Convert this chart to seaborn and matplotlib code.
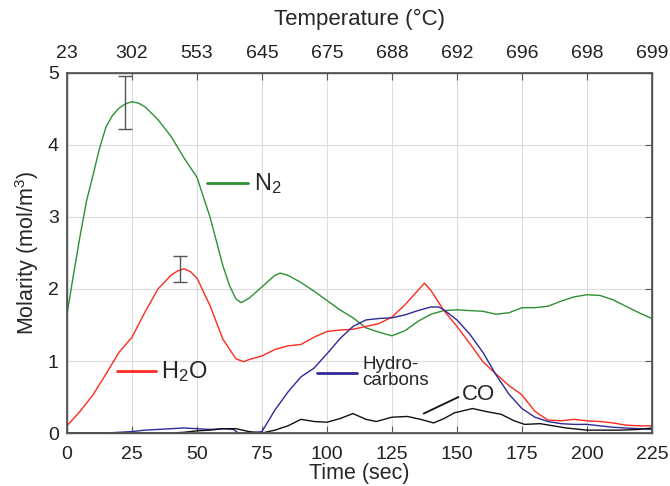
"""
Gas molarity vs time with a temperature axis on top.
"""
import matplotlib
matplotlib.use("Agg")
import matplotlib.pyplot as plt
import seaborn as sns

sns.set_theme(style="whitegrid")
plt.rcParams["font.family"] = ["Liberation Sans", "DejaVu Sans"]
plt.rcParams["mathtext.fontset"] = "custom"
plt.rcParams["mathtext.rm"] = "Liberation Sans"
plt.rcParams["mathtext.it"] = "Liberation Sans:italic"

C_N2 = "#2e8f33"
C_H2O = "#ff2a1f"
C_HC = "#2e2a98"
C_CO = "#111111"
C_ERR = "#555555"

# ---------- data ----------
time_ticks = [0, 25, 50, 75, 100, 125, 150, 175, 200, 225]
temp_labels = ["23", "302", "553", "645", "675", "688", "692", "696", "698", "699"]

t_n2 = [0, 2.5, 5, 7.5, 10, 12.5, 15, 17.5, 20, 22.5, 25, 27.5, 30, 35, 40, 45, 50,
        55, 60, 62.5, 65, 67, 70, 75, 80, 82, 85, 90, 95, 100, 105, 110, 115,
        120, 125, 130, 135, 140, 145, 150, 155, 160, 165, 170, 175, 180, 185,
        190, 195, 200, 205, 210, 215, 220, 225]
n2 = [1.65, 2.2, 2.73, 3.22, 3.58, 3.95, 4.25, 4.41, 4.51, 4.57, 4.60, 4.58, 4.53,
      4.35, 4.12, 3.82, 3.55, 3.0, 2.32, 2.05, 1.86, 1.81, 1.87, 2.03, 2.19,
      2.22, 2.19, 2.09, 1.97, 1.84, 1.71, 1.60, 1.46, 1.40, 1.35, 1.42, 1.55,
      1.65, 1.70, 1.71, 1.70, 1.69, 1.65, 1.67, 1.74, 1.74, 1.76, 1.83, 1.89,
      1.92, 1.91, 1.85, 1.76, 1.67, 1.59]

t_h2o = [0, 5, 10, 15, 20, 25, 30, 35, 40, 42.5, 45, 47.5, 50, 55, 60, 65, 68, 70,
         75, 80, 85, 90, 95, 100, 105, 110, 115, 120, 125, 130, 135, 137.5, 140,
         145, 150, 155, 160, 165, 170, 175, 180, 185, 190, 195, 200, 205, 210,
         215, 220, 225]
h2o = [0.10, 0.30, 0.53, 0.82, 1.12, 1.33, 1.68, 2.0, 2.19, 2.25, 2.28, 2.24,
       2.15, 1.77, 1.30, 1.03, 0.99, 1.02, 1.07, 1.16, 1.21, 1.23, 1.33, 1.41,
       1.43, 1.44, 1.48, 1.52, 1.61, 1.78, 1.98, 2.08, 1.98, 1.70, 1.48, 1.24,
       0.99, 0.82, 0.66, 0.53, 0.30, 0.18, 0.17, 0.19, 0.17, 0.16, 0.14, 0.11,
       0.10, 0.10]

t_hc = [0, 15, 20, 25, 30, 35, 40, 45, 50, 55, 60, 64, 66, 70, 75, 80, 85, 90, 95,
        100, 105, 110, 115, 120, 125, 130, 135, 140, 143, 145, 150, 155, 160,
        165, 170, 175, 180, 185, 190, 195, 200, 205, 210, 215, 220, 225]
hc = [0, 0, 0.01, 0.02, 0.04, 0.05, 0.06, 0.07, 0.06, 0.05, 0.06, 0.05, 0.0, 0.0,
      0.02, 0.32, 0.57, 0.78, 0.90, 1.10, 1.31, 1.48, 1.57, 1.59, 1.60, 1.64,
      1.70, 1.75, 1.75, 1.71, 1.57, 1.37, 1.12, 0.81, 0.54, 0.34, 0.22, 0.16,
      0.13, 0.12, 0.12, 0.10, 0.08, 0.07, 0.06, 0.05]

t_co = [0, 40, 45, 50, 55, 60, 65, 70, 75, 80, 85, 90, 95, 100, 105, 110, 115, 119,
        125, 131, 136, 141, 145, 149, 156, 161, 167, 172, 176, 182, 187, 192,
        200, 213, 220, 225]
co = [0, 0, 0.01, 0.03, 0.04, 0.06, 0.06, 0.02, 0.0, 0.04, 0.10, 0.19, 0.16,
      0.15, 0.20, 0.27, 0.19, 0.16, 0.22, 0.23, 0.19, 0.14, 0.20, 0.28, 0.34,
      0.30, 0.26, 0.17, 0.12, 0.13, 0.10, 0.07, 0.04, 0.04, 0.05, 0.07]

# error bars: (time, mean, half-width)
err_t = [22.2, 43.6]
err_y = [4.59, 2.28]
err_h = [0.37, 0.18]

# ---------- figure ----------
fig = plt.figure(figsize=(6.7, 4.86), dpi=100)
ax = fig.add_axes([0.100, 0.109, 0.873, 0.741])

lw = 1.0
for t, v, c in [(t_n2, n2, C_N2), (t_h2o, h2o, C_H2O), (t_hc, hc, C_HC), (t_co, co, C_CO)]:
    sns.lineplot(x=t, y=v, color=c, lw=lw, ax=ax, solid_joinstyle="round")
ax.errorbar(err_t, err_y, yerr=err_h, fmt="none", ecolor=C_ERR, elinewidth=1.0,
            capsize=5, capthick=1.0)

# inline labels
ax.plot([54, 69.6], [3.47, 3.47], color=C_N2, lw=2)
ax.text(72, 3.47, r"N$_2$", fontsize=17, va="center", ha="left")
ax.plot([19.4, 34.3], [0.86, 0.86], color=C_H2O, lw=2)
ax.text(36, 0.86, r"H$_2$O", fontsize=17, va="center", ha="left")
ax.plot([96.2, 111.5], [0.84, 0.84], color=C_HC, lw=2)
ax.text(113.5, 0.84, "Hydro-\ncarbons", fontsize=13.5, va="center", ha="left",
        linespacing=0.95)
ax.plot([137.2, 150.6], [0.27, 0.50], color=C_CO, lw=1.3)
ax.text(152, 0.53, "CO", fontsize=16, va="center", ha="left")

ax.set_xlim(0, 225)
ax.set_ylim(0, 5)
ax.set_xticks(time_ticks)
ax.set_yticks([0, 1, 2, 3, 4, 5])
ax.set_xlabel("Time (sec)", fontsize=15.5, labelpad=0)
ax.set_ylabel("Molarity (mol/m$^3$)", fontsize=15.5, labelpad=5)
ax.grid(True, color="#dcdcdc", lw=0.8)
ax.set_facecolor("white")
for s in ax.spines.values():
    s.set_color("#555555")
    s.set_linewidth(1.0)
ax.tick_params(direction="in", length=5, width=0.8, color="#555555",
               labelsize=14, right=True, top=False, labelcolor="#222222")
ax.tick_params(axis="x", pad=9)
ax.tick_params(axis="y", pad=6)

ax2 = ax.twiny()
ax2.set_xlim(ax.get_xlim())
ax2.set_xticks(time_ticks)
ax2.set_xticklabels(temp_labels)
ax2.grid(False)
ax2.tick_params(direction="in", length=5, width=0.8, color="#555555",
                labelsize=14, pad=8, labelcolor="#222222")
ax2.set_xlabel("Temperature (\u00b0C)", fontsize=16, labelpad=14)
for s in ax2.spines.values():
    s.set_color("#555555")

fig.savefig("out.png", dpi=100)
